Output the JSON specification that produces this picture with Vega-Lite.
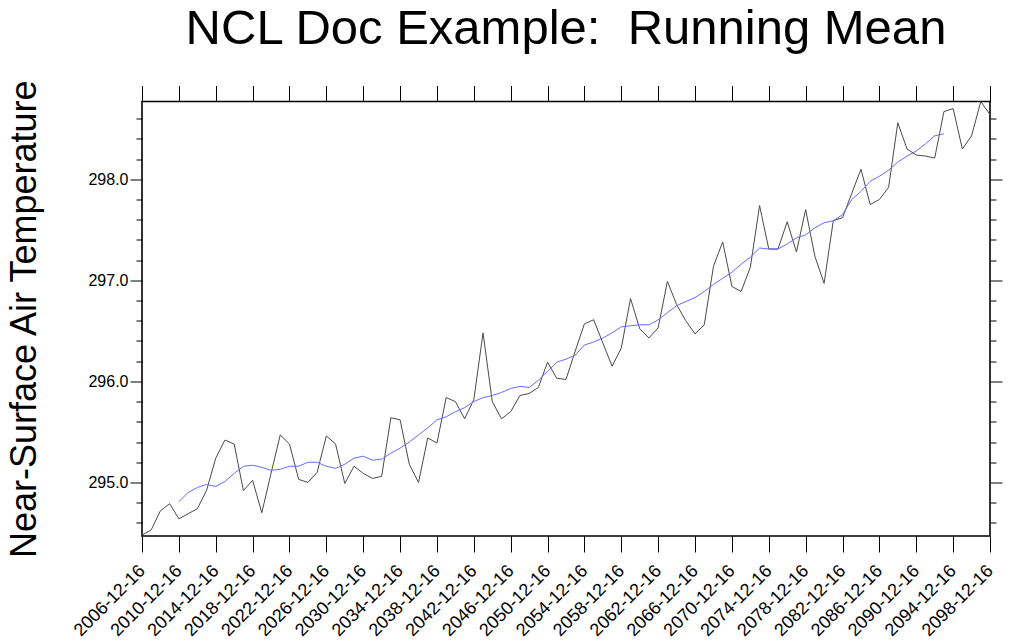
{
  "$schema": "https://vega.github.io/schema/vega-lite/v6.json",
  "width": 848,
  "height": 434.5,
  "autosize": "none",
  "padding": {"left": 142, "top": 101.5, "right": 26, "bottom": 108},
  "background": "white",
  "config": {
    "font": "Liberation Sans",
    "view": {"stroke": "#000000", "strokeWidth": 1.6},
    "axis": {"labelFont": "Liberation Sans", "labelColor": "#000000", "tickColor": "#000000", "tickWidth": 1, "grid": false, "domain": false, "titleColor": "#000000", "titleFontWeight": "normal", "titleFont": "Liberation Sans"}
  },
  "title": {
    "text": "NCL Doc Example: \u00a0Running Mean",
    "fontSize": 49,
    "font": "Liberation Sans",
    "fontWeight": "normal",
    "color": "#000000",
    "anchor": "middle",
    "baseline": "alphabetic",
    "offset": -14
  },
  "data": {
    "values": [
      {"year": 2006, "temp": 294.48, "runmean": null},
      {"year": 2007, "temp": 294.53, "runmean": null},
      {"year": 2008, "temp": 294.72, "runmean": null},
      {"year": 2009, "temp": 294.79, "runmean": null},
      {"year": 2010, "temp": 294.64, "runmean": 294.81},
      {"year": 2011, "temp": 294.69, "runmean": 294.90},
      {"year": 2012, "temp": 294.74, "runmean": 294.95},
      {"year": 2013, "temp": 294.92, "runmean": 294.98},
      {"year": 2014, "temp": 295.24, "runmean": 294.96},
      {"year": 2015, "temp": 295.42, "runmean": 295.01},
      {"year": 2016, "temp": 295.38, "runmean": 295.09},
      {"year": 2017, "temp": 294.92, "runmean": 295.16},
      {"year": 2018, "temp": 295.02, "runmean": 295.17},
      {"year": 2019, "temp": 294.70, "runmean": 295.15},
      {"year": 2020, "temp": 295.09, "runmean": 295.12},
      {"year": 2021, "temp": 295.47, "runmean": 295.13},
      {"year": 2022, "temp": 295.38, "runmean": 295.16},
      {"year": 2023, "temp": 295.03, "runmean": 295.16},
      {"year": 2024, "temp": 295.00, "runmean": 295.20},
      {"year": 2025, "temp": 295.10, "runmean": 295.20},
      {"year": 2026, "temp": 295.46, "runmean": 295.16},
      {"year": 2027, "temp": 295.38, "runmean": 295.14},
      {"year": 2028, "temp": 294.99, "runmean": 295.18},
      {"year": 2029, "temp": 295.16, "runmean": 295.24},
      {"year": 2030, "temp": 295.09, "runmean": 295.26},
      {"year": 2031, "temp": 295.04, "runmean": 295.22},
      {"year": 2032, "temp": 295.06, "runmean": 295.23},
      {"year": 2033, "temp": 295.64, "runmean": 295.29},
      {"year": 2034, "temp": 295.62, "runmean": 295.34},
      {"year": 2035, "temp": 295.18, "runmean": 295.40},
      {"year": 2036, "temp": 295.00, "runmean": 295.47},
      {"year": 2037, "temp": 295.44, "runmean": 295.54},
      {"year": 2038, "temp": 295.39, "runmean": 295.62},
      {"year": 2039, "temp": 295.84, "runmean": 295.65},
      {"year": 2040, "temp": 295.80, "runmean": 295.70},
      {"year": 2041, "temp": 295.63, "runmean": 295.74},
      {"year": 2042, "temp": 295.82, "runmean": 295.80},
      {"year": 2043, "temp": 296.48, "runmean": 295.84},
      {"year": 2044, "temp": 295.80, "runmean": 295.86},
      {"year": 2045, "temp": 295.63, "runmean": 295.89},
      {"year": 2046, "temp": 295.70, "runmean": 295.93},
      {"year": 2047, "temp": 295.86, "runmean": 295.95},
      {"year": 2048, "temp": 295.88, "runmean": 295.94},
      {"year": 2049, "temp": 295.94, "runmean": 296.01},
      {"year": 2050, "temp": 296.19, "runmean": 296.10},
      {"year": 2051, "temp": 296.03, "runmean": 296.19},
      {"year": 2052, "temp": 296.02, "runmean": 296.22},
      {"year": 2053, "temp": 296.30, "runmean": 296.26},
      {"year": 2054, "temp": 296.57, "runmean": 296.36},
      {"year": 2055, "temp": 296.61, "runmean": 296.39},
      {"year": 2056, "temp": 296.38, "runmean": 296.43},
      {"year": 2057, "temp": 296.15, "runmean": 296.48},
      {"year": 2058, "temp": 296.33, "runmean": 296.54},
      {"year": 2059, "temp": 296.82, "runmean": 296.55},
      {"year": 2060, "temp": 296.52, "runmean": 296.56},
      {"year": 2061, "temp": 296.43, "runmean": 296.56},
      {"year": 2062, "temp": 296.53, "runmean": 296.61},
      {"year": 2063, "temp": 296.99, "runmean": 296.68},
      {"year": 2064, "temp": 296.76, "runmean": 296.75},
      {"year": 2065, "temp": 296.60, "runmean": 296.79},
      {"year": 2066, "temp": 296.47, "runmean": 296.83},
      {"year": 2067, "temp": 296.56, "runmean": 296.89},
      {"year": 2068, "temp": 297.14, "runmean": 296.96},
      {"year": 2069, "temp": 297.38, "runmean": 297.02},
      {"year": 2070, "temp": 296.94, "runmean": 297.08},
      {"year": 2071, "temp": 296.89, "runmean": 297.16},
      {"year": 2072, "temp": 297.13, "runmean": 297.23},
      {"year": 2073, "temp": 297.74, "runmean": 297.32},
      {"year": 2074, "temp": 297.31, "runmean": 297.31},
      {"year": 2075, "temp": 297.31, "runmean": 297.31},
      {"year": 2076, "temp": 297.58, "runmean": 297.36},
      {"year": 2077, "temp": 297.28, "runmean": 297.42},
      {"year": 2078, "temp": 297.70, "runmean": 297.45},
      {"year": 2079, "temp": 297.24, "runmean": 297.52},
      {"year": 2080, "temp": 296.97, "runmean": 297.57},
      {"year": 2081, "temp": 297.59, "runmean": 297.59},
      {"year": 2082, "temp": 297.62, "runmean": 297.65},
      {"year": 2083, "temp": 297.86, "runmean": 297.80},
      {"year": 2084, "temp": 298.10, "runmean": 297.88},
      {"year": 2085, "temp": 297.75, "runmean": 297.98},
      {"year": 2086, "temp": 297.80, "runmean": 298.03},
      {"year": 2087, "temp": 297.92, "runmean": 298.09},
      {"year": 2088, "temp": 298.56, "runmean": 298.17},
      {"year": 2089, "temp": 298.30, "runmean": 298.23},
      {"year": 2090, "temp": 298.24, "runmean": 298.28},
      {"year": 2091, "temp": 298.23, "runmean": 298.35},
      {"year": 2092, "temp": 298.21, "runmean": 298.43},
      {"year": 2093, "temp": 298.67, "runmean": 298.45},
      {"year": 2094, "temp": 298.70, "runmean": null},
      {"year": 2095, "temp": 298.30, "runmean": null},
      {"year": 2096, "temp": 298.43, "runmean": null},
      {"year": 2097, "temp": 298.77, "runmean": null},
      {"year": 2098, "temp": 298.64, "runmean": null}
    ]
  },
  "layer": [
    {
      "mark": {"type": "line", "color": "#4a4a4a", "strokeWidth": 1},
      "encoding": {
        "x": {
          "field": "year", "type": "quantitative",
          "scale": {"domain": [2006, 2098], "nice": false, "zero": false},
          "axis": {
            "orient": "bottom", "title": null,
            "values": [2006, 2010, 2014, 2018, 2022, 2026, 2030, 2034, 2038, 2042, 2046, 2050, 2054, 2058, 2062, 2066, 2070, 2074, 2078, 2082, 2086, 2090, 2094, 2098],
            "labelExpr": "datum.value + '-12-16'",
            "labelAngle": -45, "labelAlign": "right", "labelBaseline": "middle",
            "labelFontSize": 18, "labelPadding": 16, "tickSize": 16,
            "labelOverlap": false, "labelFlush": false, "labelBound": false
          }
        },
        "y": {
          "field": "temp", "type": "quantitative",
          "scale": {"domain": [294.47, 298.77], "nice": false, "zero": false},
          "axis": {
            "orient": "left",
            "title": "Near-Surface Air Temperature",
            "titleFontSize": 36, "titleAngle": 270, "titleAlign": "center", "titleBaseline": "alphabetic",
            "titleX": -107, "titleY": 217.25,
            "values": [294.6, 294.8, 295.0, 295.2, 295.4, 295.6, 295.8, 296.0, 296.2, 296.4, 296.6, 296.8, 297.0, 297.2, 297.4, 297.6, 297.8, 298.0, 298.2, 298.4, 298.6],
            "labelExpr": "abs(datum.value - round(datum.value)) < 0.01 ? format(datum.value, '.1f') : ''",
            "labelFontSize": 16, "labelPadding": 2,
            "tickSize": {"condition": {"test": "abs(datum.value - round(datum.value)) < 0.01", "value": 12}, "value": 6},
            "labelOverlap": false, "labelFlush": false, "labelBound": false
          }
        }
      }
    },
    {
      "mark": {"type": "line", "color": "#6a6aff", "strokeWidth": 1},
      "encoding": {
        "x": {
          "field": "year", "type": "quantitative",
          "scale": {"domain": [2006, 2098], "nice": false, "zero": false},
          "axis": {
            "orient": "top", "title": null, "labels": false,
            "values": [2006, 2010, 2014, 2018, 2022, 2026, 2030, 2034, 2038, 2042, 2046, 2050, 2054, 2058, 2062, 2066, 2070, 2074, 2078, 2082, 2086, 2090, 2094, 2098],
            "tickSize": 16
          }
        },
        "y": {
          "field": "runmean", "type": "quantitative",
          "scale": {"domain": [294.47, 298.77], "nice": false, "zero": false},
          "axis": {
            "orient": "right", "title": null, "labels": false,
            "values": [294.6, 294.8, 295.0, 295.2, 295.4, 295.6, 295.8, 296.0, 296.2, 296.4, 296.6, 296.8, 297.0, 297.2, 297.4, 297.6, 297.8, 298.0, 298.2, 298.4, 298.6],
            "tickSize": {"condition": {"test": "abs(datum.value - round(datum.value)) < 0.01", "value": 12}, "value": 6}
          }
        }
      }
    }
  ],
  "resolve": {"axis": {"x": "independent", "y": "independent"}}
}
